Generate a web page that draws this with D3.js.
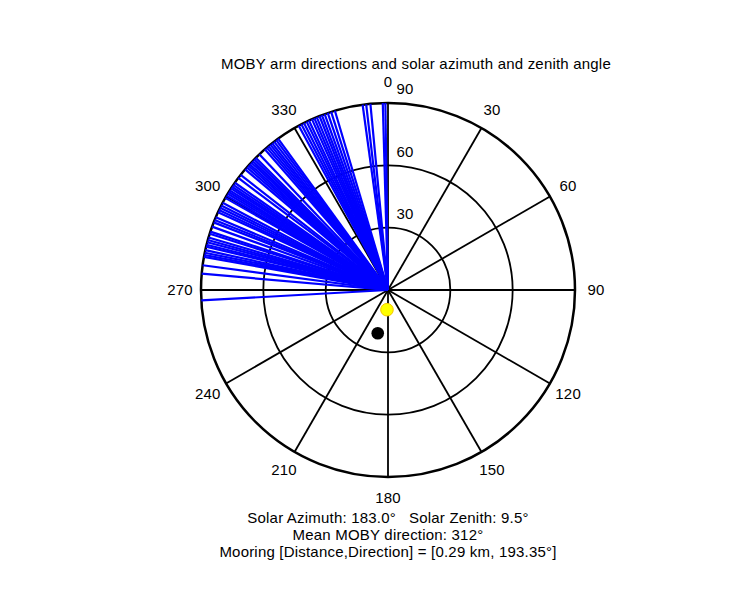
<!DOCTYPE html>
<html lang="en">
<head>
    <meta charset="UTF-8">
    <title>MOBY arm directions</title>
    <script src="https://cdn.jsdelivr.net/npm/d3@7"></script>
    <style>
        body { margin: 0; background: #fff; }
        text { font-family: "Liberation Sans", Arial, sans-serif; fill: #000; letter-spacing: 0.2px; }
    </style>
</head>
<body>
<svg id="svg" width="750" height="600"></svg>
<script>
    // 数据
    var armDirections = [
        266.8,
        275.0, 277.6,
        280.2, 280.8, 281.5, 282.3,
        283.4, 284.0, 284.8, 285.5, 286.3,
        287.5, 288.2, 289.8,
        291.2, 292.0, 292.9,
        294.6, 295.3, 296.1, 296.9, 297.8,
        299.5, 300.3, 301.0, 301.6, 302.2, 302.9, 303.5, 304.2, 305.0,
        306.8, 308.0,
        310.2, 311.0, 311.7, 312.3, 313.0, 313.6, 314.3, 315.0,
        316.5,
        318.8, 319.6, 320.3, 321.0, 321.7, 322.5, 323.3, 324.0,
        331.5, 332.4, 333.3, 334.2, 335.0, 336.0, 336.8, 337.6, 338.5, 339.3, 340.2, 341.2, 342.3, 343.5,
        352.2, 353.3, 354.6, 358.4, 359.2
    ];
    var armZenith = 90;
    var solarAzimuth = 183.0, solarZenith = 9.5;
    var meanDirection = 312;
    var mooringDistance = 0.29, mooringDirection = 193.35, mooringRadius = 21.4;
    var ringTicks = [30, 60, 90];
    var angleTicks = d3.range(0, 360, 30);

    var cx = 388, cy = 290, R = 187;
    var svg = d3.select("#svg");

    var r = d3.scaleLinear().domain([0, 90]).range([0, R]);
    var a = d3.scaleLinear().domain([0, 360]).range([0, 2 * Math.PI]);

    // 方位角 -> 坐标 (北为0, 顺时针)
    function pt(az, zen) {
        var t = a(az);
        return [cx + r(zen) * Math.sin(t), cy - r(zen) * Math.cos(t)];
    }

    var g = svg.append("g");

    // 网格
    g.selectAll("circle.ring")
        .data(ringTicks)
        .enter()
        .append("circle")
        .attr("class", "ring")
        .attr("cx", cx).attr("cy", cy)
        .attr("r", function (d) { return r(d); })
        .style("fill", "none")
        .style("stroke", "#000")
        .style("stroke-width", function (d) { return d === 90 ? 2.5 : 1.8; });

    g.selectAll("line.spoke")
        .data(angleTicks)
        .enter()
        .append("line")
        .attr("class", "spoke")
        .attr("x1", cx).attr("y1", cy)
        .attr("x2", function (d) { return pt(d, 90)[0]; })
        .attr("y2", function (d) { return pt(d, 90)[1]; })
        .style("stroke", "#000")
        .style("stroke-width", 1.8);

    // 臂方向
    g.selectAll("line.arm")
        .data(armDirections)
        .enter()
        .append("line")
        .attr("class", "arm")
        .attr("x1", cx).attr("y1", cy)
        .attr("x2", function (d) { return pt(d, armZenith)[0]; })
        .attr("y2", function (d) { return pt(d, armZenith)[1]; })
        .style("stroke", "#0000ff")
        .style("stroke-width", 2.2);

    // 角度标签
    g.selectAll("text.ang")
        .data(angleTicks)
        .enter()
        .append("text")
        .attr("class", "ang")
        .attr("x", function (d) { return cx + 208 * Math.sin(a(d)); })
        .attr("y", function (d) { return cy - 208 * Math.cos(a(d)); })
        .attr("dy", "0.35em")
        .attr("text-anchor", "middle")
        .style("font-size", "15px")
        .text(function (d) { return d; });

    g.selectAll("text.ring")
        .data(ringTicks)
        .enter()
        .append("text")
        .attr("class", "ring")
        .attr("x", cx + 17)
        .attr("y", function (d) { return cy - r(d) - 14; })
        .attr("dy", "0.35em")
        .attr("text-anchor", "middle")
        .style("font-size", "15px")
        .text(function (d) { return d; });

    // 太阳位置
    var sp = pt(solarAzimuth, solarZenith);
    g.append("circle")
        .attr("cx", sp[0]).attr("cy", sp[1]).attr("r", 6.3)
        .style("fill", "#ffff00")
        .style("stroke", "#f5c400")
        .style("stroke-width", 1);

    // 系泊位置
    var mp = pt(mooringDirection, mooringRadius);
    g.append("circle")
        .attr("cx", mp[0]).attr("cy", mp[1]).attr("r", 6.3)
        .style("fill", "#000");

    // 标题
    svg.append("text")
        .attr("x", 416).attr("y", 69)
        .attr("text-anchor", "middle")
        .style("font-size", "15px")
        .text("MOBY arm directions and solar azimuth and zenith angle");

    var lines = [
        "Solar Azimuth: " + solarAzimuth.toFixed(1) + "°   Solar Zenith: " + solarZenith.toFixed(1) + "°",
        "Mean MOBY direction: " + meanDirection + "°",
        "Mooring [Distance,Direction] = [" + mooringDistance + " km, " + mooringDirection + "°]"
    ];
    svg.append("g").selectAll("text")
        .data(lines)
        .enter()
        .append("text")
        .attr("x", 388)
        .attr("y", function (d, i) { return 523 + i * 17; })
        .attr("text-anchor", "middle")
        .style("font-size", "15px")
        .style("white-space", "pre")
        .attr("xml:space", "preserve")
        .text(function (d) { return d; });
</script>
</body>
</html>
